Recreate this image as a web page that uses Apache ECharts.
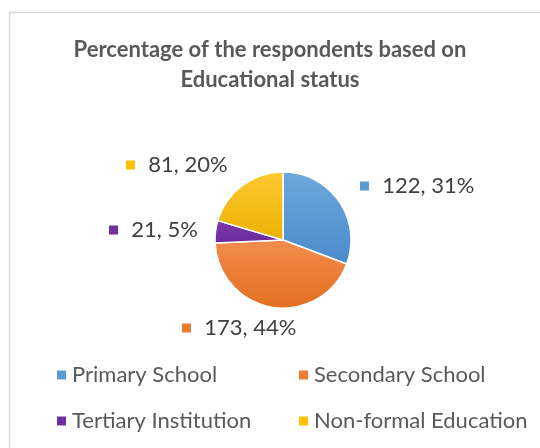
<!DOCTYPE html>
<html><head><meta charset="utf-8">
<script src="https://cdn.jsdelivr.net/npm/echarts@6/dist/echarts.min.js"></script>
<style>html,body{margin:0;padding:0;background:#fff}#c{width:540px;height:448px}</style>
</head><body><div id="c"></div>
<script>
const categories = ['Primary School', 'Secondary School', 'Tertiary Institution', 'Non-formal Education'];
const values = [122, 173, 21, 81];
const percents = ['31%', '44%', '5%', '20%'];
const colors = ['#5B9BD5', '#ED7D31', '#7030A0', '#FFC000'];
const topColors = ['#6DA8DE', '#F28D4E', '#7B3AAE', '#FFC933'];
const botColors = ['#4A8BCB', '#E36F1F', '#6A2A98', '#EBB000'];
const labelPos = [[360, 186], [182, 328], [109, 230], [126, 165]];
const legendPos = [[50, 359], [292, 359], [50, 405], [292, 405]];
const FONT = 'Lato, "Liberation Sans", Arial, sans-serif';

const chart = echarts.init(document.getElementById('c'));
const data = categories.map((n, i) => ({
  name: n, value: values[i],
  itemStyle: { color: new echarts.graphic.LinearGradient(0, 0, 0, 1, [
    { offset: 0, color: topColors[i] }, { offset: 1, color: botColors[i] }]) },
  label: { rich: { m: { backgroundColor: colors[i], width: 9, height: 9 } } }
}));
const legends = categories.map((n, i) => ({
  data: [{ name: n, itemStyle: { color: colors[i] } }],
  left: legendPos[i][0], top: legendPos[i][1],
  icon: 'rect', itemWidth: 11, itemHeight: 11, itemGap: 8,
  selectedMode: false,
  textStyle: { fontFamily: FONT, fontSize: 22, color: '#595959' }
}));
chart.setOption({
  animation: false,
  color: colors,
  title: {
    text: 'Percentage of the respondents based on\nEducational status',
    left: 'center', top: 30,
    textStyle: { fontFamily: FONT, fontSize: 22, fontWeight: 'bold', color: '#595959', lineHeight: 30 }
  },
  graphic: [{ type: 'rect', shape: { x: 9.5, y: 12.5, width: 540, height: 450 },
    style: { fill: 'none', stroke: '#D9D9D9', lineWidth: 1.5 }, silent: true, z: -1 }],
  legend: legends,
  series: [{
    type: 'pie', center: [283, 240], radius: [0, 68], startAngle: 90, clockwise: true,
    itemStyle: { borderColor: '#fff', borderWidth: 1.5 },
    labelLine: { show: false },
    label: {
      show: true, position: 'outside',
      formatter: p => '{m|}    {t|' + p.value + ', ' + percents[p.dataIndex] + '}',
      rich: { t: { fontFamily: FONT, fontSize: 22, color: '#404040' } }
    },
    labelLayout: p => ({ x: labelPos[p.dataIndex][0], y: labelPos[p.dataIndex][1], align: 'left', verticalAlign: 'middle' }),
    data: data
  }]
});
</script></body></html>
